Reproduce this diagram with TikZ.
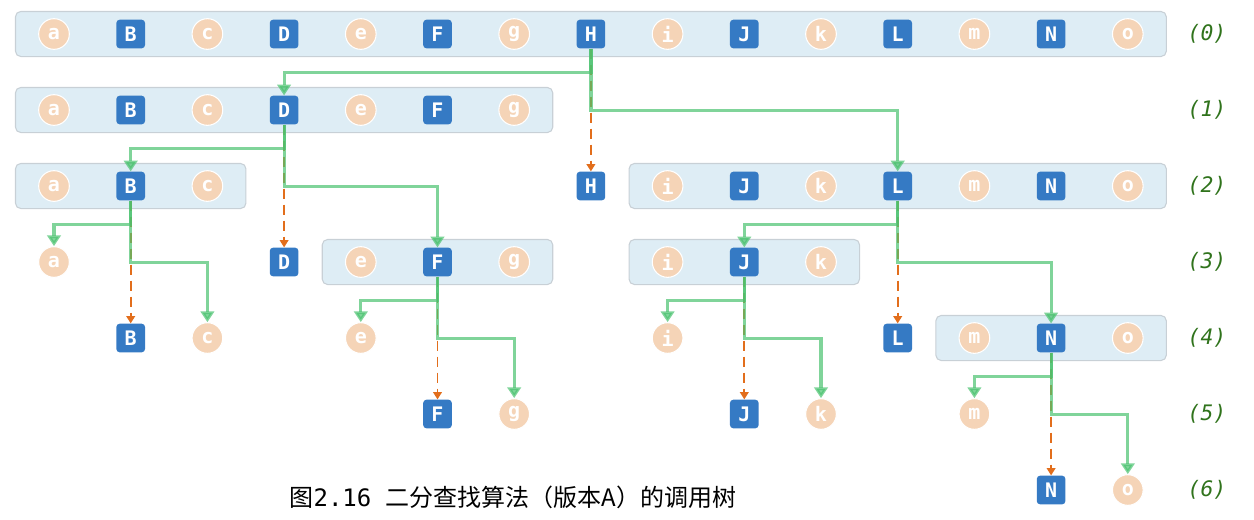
\documentclass[tikz,border=0pt]{standalone}
\usepackage{fontspec}
\usetikzlibrary{arrows.meta,fit,backgrounds}
\newfontfamily\monofont{DejaVu Sans Mono}
\newfontfamily\cjk{Noto Sans CJK SC}
\definecolor{keyblue}{RGB}{53,122,196}
\definecolor{elempeach}{RGB}{245,212,183}
\definecolor{grpfill}{RGB}{222,237,245}
\definecolor{grpline}{RGB}{200,208,214}
\definecolor{callgreen}{RGB}{74,194,111}
\definecolor{sameorange}{RGB}{226,110,28}
\definecolor{lvgreen}{RGB}{48,115,28}
\newcommand\ltr[1]{\ifcase#1 a\or B\or c\or D\or e\or F\or g\or H\or i\or J\or k\or L\or m\or N\or o\fi}
\tikzset{
	keybox/.style={fill=keyblue, rounded corners=2.5pt, minimum size=21.5pt, inner sep=0pt, text=white, font=\monofont\bfseries\fontsize{15}{15}\selectfont},
	elem/.style={circle, fill=elempeach, draw=white, line width=0.8pt, minimum size=23pt, inner sep=0pt, text=white, font=\monofont\bfseries\fontsize{15}{15}\selectfont},
	grp/.style={fill=grpfill, draw=grpline, line width=0.8pt, rounded corners=4pt, inner xsep=17pt, inner ysep=5pt},
	call/.style={draw=callgreen, opacity=0.7, line width=2.4pt, -{Triangle[width=10pt,length=8pt]}},
	same/.style={draw=sameorange, line width=1.3pt, dash pattern=on 8pt off 4pt, -{Triangle[width=6.5pt,length=5.5pt]}},
	lv/.style={text=lvgreen, font=\monofont\itshape\fontsize{16}{16}\selectfont}
}
\begin{document}
\begin{tikzpicture}[x=0.75pt,y=-0.75pt]
	\useasboundingbox (0,0) rectangle (1254,519);
	% the elements of each call, row by row
	\foreach \rw/\cols in {0/{0,1,2,3,4,5,6,7,8,9,10,11,12,13,14},1/{0,1,2,3,4,5,6},2/{0,1,2,7,8,9,10,11,12,13,14},3/{0,3,4,5,6,8,9,10},4/{1,2,4,8,11,12,13,14},5/{5,6,9,10,12},6/{13,14}}
	\foreach \cl in \cols {
		\ifodd\cl
			\node[keybox] (\ltr\cl\rw) at ({54+76.7*\cl},{34+76*\rw}) {\ltr\cl};
		\else
			\node[elem] (\ltr\cl\rw) at ({54+76.7*\cl},{34+76*\rw}) {\ltr\cl};
		\fi
	}
	\begin{scope}[on background layer]
		\node[grp, fit=(a0)(o0)] (g0) {};
		\node[grp, fit=(a1)(g1)] (g1) {};
		\node[grp, fit=(a2)(c2)] (g2a) {};
		\node[grp, fit=(i2)(o2)] (g2b) {};
		\node[grp, fit=(e3)(g3)] (g3a) {};
		\node[grp, fit=(i3)(k3)] (g3b) {};
		\node[grp, fit=(m4)(o4)] (g4) {};
	\end{scope}
	% calls: parent / left / right / same key
	\foreach \p/\lc/\rc/\cp in {H0/D1/L2/H2, D1/B2/F3/D3, B2/a3/c4/B4, F3/e4/g5/F5, L2/J3/N4/L4, J3/i4/k5/J5, N4/m5/o6/N6} {
		\draw[same] (\p.south) -- (\cp.north);
		\draw[call] (\p.south) -- ++(0,23.7) -| (\lc.north);
		\draw[call] (\p.south) -- ++(0,61.7) -| (\rc.north);
	}
	\foreach \rw in {0,...,6}
		\node[lv] (lv\rw) at (1207,{34+76*\rw}) {(\rw)};
	\node[font=\cjk\fontsize{18}{18}\selectfont] (cap) at (513,497) {图{\monofont 2.16 }二分查找算法（版本A）的调用树};
\end{tikzpicture}
\end{document}
